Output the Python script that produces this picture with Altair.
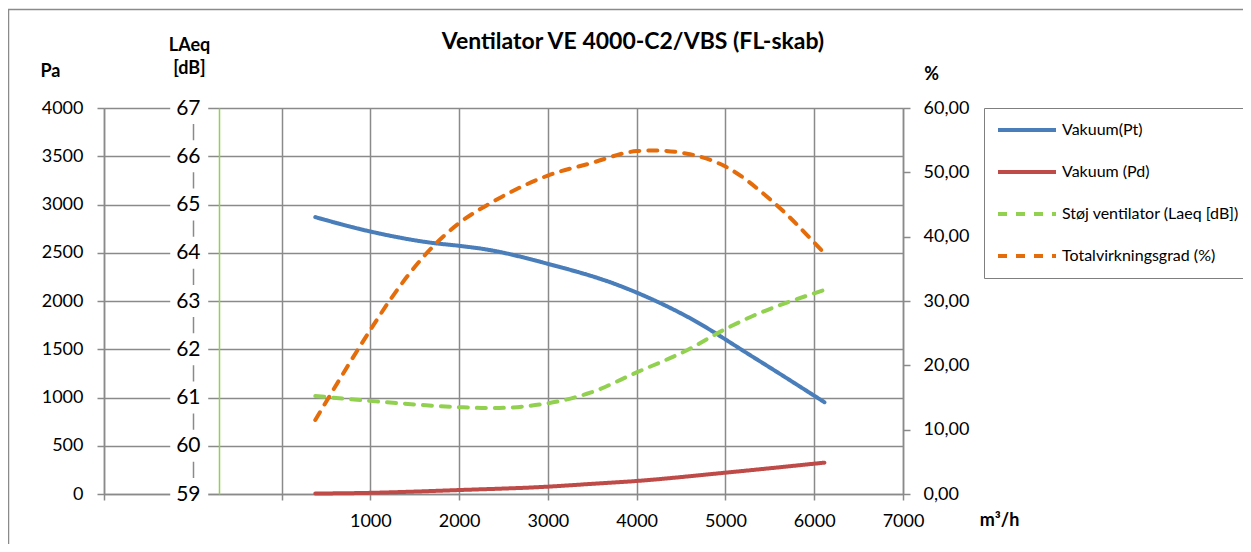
import altair as alt
import pandas as pd

FONT = "Lato"
GRID = "#8a8a8a"

# ---------------- data ----------------
series_names = ["Vakuum(Pt)", "Vakuum (Pd)", "Støj ventilator (Laeq [dB])", "Totalvirkningsgrad (%)"]
series_colors = ["#4A7EBB", "#BE4B48", "#92D050", "#E46C0A"]

pt_x = [380, 1000, 1716, 2000, 2280, 3000, 3817, 4567, 5321, 6115]
pt_y = [2869, 2720, 2600, 2572, 2538, 2385, 2155, 1839, 1414, 951]

pd_x = [380, 1000, 1500, 2000, 3000, 3478, 4000, 5000, 6115]
pd_y = [5, 12, 25, 41, 76, 104, 135, 221, 325]

laeq_x = [380, 1000, 2000, 2352, 3000, 3478, 4000, 4567, 5000, 5321, 6000, 6115]
laeq_y = [61.03, 60.93, 60.80, 60.78, 60.88, 61.10, 61.52, 61.98, 62.42, 62.70, 63.16, 63.23]

eff_x = [380, 1000, 1224, 1600, 2000, 2352, 3000, 3478, 4000, 4187, 4567, 5000, 5544, 6115]
eff_y = [11.5, 25.5, 30.2, 36.9, 42.1, 45.2, 49.5, 51.4, 53.3, 53.4, 52.9, 50.9, 45.3, 37.4]

x_ticks = list(range(-2000, 7001, 1000))
pa_ticks = list(range(0, 4001, 500))
laeq_ticks = list(range(59, 68))
pct_ticks = list(range(0, 61, 10))

rows = []
for name, xs_, ys_ in [
    (series_names[0], pt_x, pt_y),
    (series_names[1], pd_x, pd_y),
    (series_names[2], laeq_x, laeq_y),
    (series_names[3], eff_x, eff_y),
]:
    for a, b in zip(xs_, ys_):
        rows.append({"x": a, "value": b, "series": name})
df = pd.DataFrame(rows)
one = pd.DataFrame({"a": [0]})
tick_df = pd.DataFrame({"t": laeq_ticks})

# ---------------- scales / axes ----------------
x_scale = alt.Scale(domain=[-2000, 7000], nice=False, zero=False)
x_axis = alt.Axis(
    values=x_ticks, grid=True, gridColor=GRID, gridWidth=1.5,
    domainColor=GRID, domainWidth=1.5, tickColor=GRID, tickWidth=1.5, tickSize=6,
    labelExpr="datum.value >= 1000 ? format(datum.value, 'd') : ''",
    labelFont=FONT, labelFontSize=18, labelColor="black", labelPadding=12, labelFlush=False,
    title="m³/h", titleFont=FONT, titleFontSize=18, titleFontWeight="bold", titleColor="black",
    titleX=895, titleY=31, titleAlign="center", titleBaseline="alphabetic",
)

pa_axis = alt.Axis(
    orient="left", values=pa_ticks, grid=True, gridColor=GRID, gridWidth=1.5,
    domainColor=GRID, domainWidth=1.5, tickColor=GRID, tickWidth=1.5, tickSize=7,
    labelFont=FONT, labelFontSize=18, labelColor="black", labelPadding=14, labelFlush=False,
    format="d",
    title="Pa", titleFont=FONT, titleFontSize=18, titleFontWeight="bold", titleColor="black",
    titleAngle=0, titleX=-54, titleY=-32, titleAlign="center", titleBaseline="alphabetic",
)

laeq_scale = alt.Scale(domain=[59, 67], nice=False, zero=False)
laeq_axis = alt.Axis(
    orient="left", offset=-115, values=laeq_ticks, grid=False, ticks=False,
    domainColor="#92D050", domainWidth=1.5, zindex=1,
    labelFont=FONT, labelFontSize=21, labelColor="black", labelPadding=19, labelFlush=False,
    format="d",
    title=["LAeq", "[dB]"], titleFont=FONT, titleFontSize=18, titleFontWeight="bold",
    titleColor="black", titleAngle=0, titleX=-30, titleY=-58, titleAlign="center",
    titleBaseline="alphabetic", titleLineHeight=23,
)

pct_axis = alt.Axis(
    orient="right", values=pct_ticks, grid=False,
    domainColor=GRID, domainWidth=1.5, tickColor=GRID, tickWidth=1.5, tickSize=7,
    labelExpr="replace(format(datum.value, '.2f'), '.', ',')",
    labelFont=FONT, labelFontSize=18, labelColor="black", labelPadding=13, labelFlush=False,
    title="%", titleFont=FONT, titleFontSize=18, titleFontWeight="bold", titleColor="black",
    titleAngle=0, titleX=28, titleY=-29, titleAlign="center", titleBaseline="alphabetic",
)

legend = alt.Legend(
    title=None, orient="none", legendX=880, legendY=0,
    symbolType="stroke", symbolSize=3364, symbolStrokeWidth=4,
    clipHeight=20, rowPadding=22, padding=12,
    strokeColor="#7f7f7f", fillColor="white",
    labelFont=FONT, labelFontSize=16, labelColor="black", labelOffset=4, labelLimit=400,
)
color = alt.Color("series:N", scale=alt.Scale(domain=series_names, range=series_colors), legend=legend)
dash = alt.StrokeDash(
    "series:N",
    scale=alt.Scale(domain=series_names, range=[[1, 0], [1, 0], [9, 9], [9, 9]]),
    legend=legend,
)

line_kw = dict(strokeWidth=4, interpolate="monotone", strokeCap="round")

# ---------------- layers ----------------
frame = alt.Chart(one).mark_rect(filled=False, stroke=GRID, strokeWidth=1.5).encode(
    x=alt.value(-95.5), x2=alt.value(1500), y=alt.value(-98.5), y2=alt.value(800)
)

pa_layer = alt.Chart(df).transform_filter(
    alt.FieldOneOfPredicate(field="series", oneOf=series_names[:2])
).mark_line(**line_kw).encode(
    x=alt.X("x:Q", scale=x_scale, axis=x_axis),
    y=alt.Y("value:Q", scale=alt.Scale(domain=[0, 4000], nice=False), axis=pa_axis),
    color=color, strokeDash=dash,
)

masks = alt.Chart(tick_df).transform_calculate(
    lo="datum.t - 0.33", hi="datum.t + 0.33", x0="-1254", x1="-826"
).mark_rect(color="white").encode(
    x=alt.X("x0:Q", scale=x_scale, axis=x_axis), x2="x1:Q",
    y=alt.Y("lo:Q", scale=laeq_scale, axis=laeq_axis), y2="hi:Q",
)
laeq_line = alt.Chart(df).transform_filter(
    alt.FieldEqualPredicate(field="series", equal=series_names[2])
).mark_line(**line_kw).encode(
    x=alt.X("x:Q", scale=x_scale, axis=x_axis),
    y=alt.Y("value:Q", scale=laeq_scale, axis=laeq_axis),
    color=color, strokeDash=dash,
)
laeq_layer = alt.layer(masks, laeq_line)

pct_layer = alt.Chart(df).transform_filter(
    alt.FieldEqualPredicate(field="series", equal=series_names[3])
).mark_line(**line_kw).encode(
    x=alt.X("x:Q", scale=x_scale, axis=x_axis),
    y=alt.Y("value:Q", scale=alt.Scale(domain=[0, 60], nice=False), axis=pct_axis),
    color=color, strokeDash=dash,
)

title = alt.Chart(one).mark_text(
    text="Ventilator VE 4000-C2/VBS (FL-skab)", font=FONT, fontSize=23, fontWeight="bold",
    align="center", baseline="alphabetic", color="black",
).encode(x=alt.value(529), y=alt.value(-59))

chart = alt.layer(frame, pa_layer, laeq_layer, pct_layer, title).resolve_scale(
    y="independent"
).properties(
    width=799, height=386,
    autosize=alt.AutoSizeParams(type="none"),
    padding={"left": 96, "top": 100, "right": 340, "bottom": 50},
).configure_view(strokeWidth=0)

chart.save("out.html", embed_options={"renderer": "svg", "actions": False})
